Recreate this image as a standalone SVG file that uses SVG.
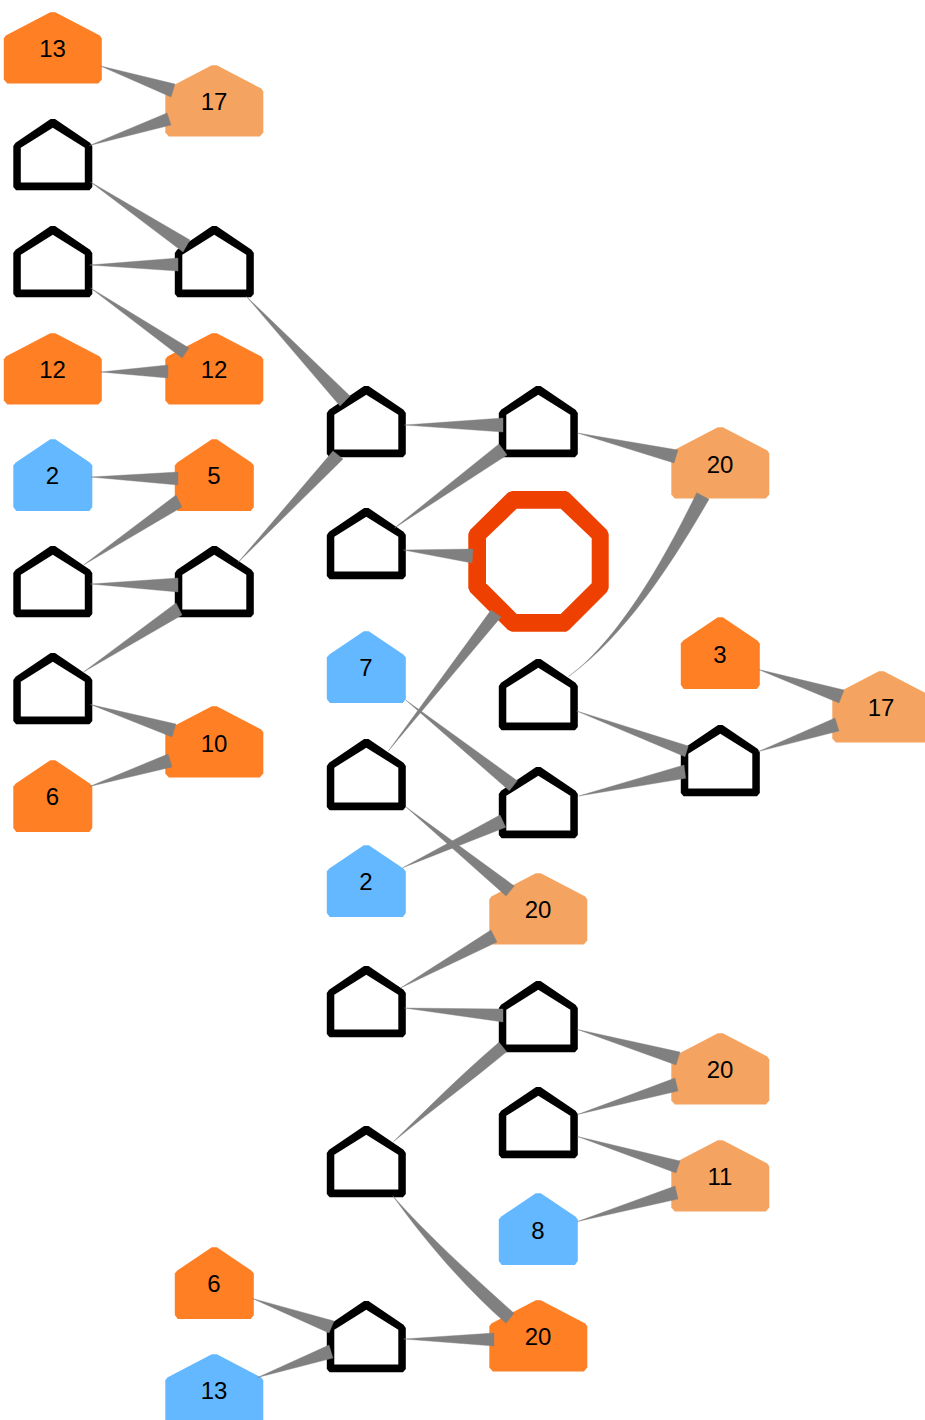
<svg xmlns="http://www.w3.org/2000/svg" width="925" height="1420" viewBox="0 0 925 1420">
<style>
text{font-family:"Liberation Sans",Arial,sans-serif;font-size:24px;fill:#000;text-anchor:middle;transform:translateX(-.3px)}
.o{fill:#FF7F24}.l{fill:#F4A460}.b{fill:#63B8FF}
.k{fill:#000}.i{fill:#fff}
#edges path{fill:#808080;stroke:#808080;stroke-width:.4}
</style>
<defs>
<polygon id="w" points="-2.500,0.200 2.500,0.200 47,23.500 49,26.500 49,67.500 45.500,71.500 -45.500,71.500 -49,67.500 -49,26.500 -47,23.500"/>
<polygon id="n" points="-2.500,0.200 2.500,0.200 37,23.500 39.500,26.500 39.500,68 36.500,72 -36.500,72 -39.500,68 -39.500,26.500 -37,23.500"/>
<polygon id="h" points="-2.200,0 2.200,0 37.200,23.800 39.500,27 39.500,68 36.700,71.300 -36.700,71.300 -39.500,68 -39.500,27 -37.200,23.800"/>
<polygon id="h2" points="0,8.700 32,28.700 32,63.500 -32,63.500 -32,28.700"/>
</defs>
<rect width="925" height="1420" fill="#fff"/>
<g id="nodes">
<g id="n1" transform="translate(52.800,12)"><use href="#w" class="o"/><text y="45">13</text></g>
<g id="n2" transform="translate(214.300,65)"><use href="#w" class="l"/><text y="45">17</text></g>
<g id="n3" transform="translate(52.800,119)"><use href="#h" class="k"/><use href="#h2" class="i"/></g>
<g id="n4" transform="translate(52.800,226)"><use href="#h" class="k"/><use href="#h2" class="i"/></g>
<g id="n5" transform="translate(214.300,226)"><use href="#h" class="k"/><use href="#h2" class="i"/></g>
<g id="n6" transform="translate(52.800,333)"><use href="#w" class="o"/><text y="45">12</text></g>
<g id="n7" transform="translate(214.300,333)"><use href="#w" class="o"/><text y="45">12</text></g>
<g id="n8" transform="translate(52.800,439)"><use href="#n" class="b"/><text y="45">2</text></g>
<g id="n9" transform="translate(214.300,439)"><use href="#n" class="o"/><text y="45">5</text></g>
<g id="n10" transform="translate(52.800,546)"><use href="#h" class="k"/><use href="#h2" class="i"/></g>
<g id="n11" transform="translate(214.300,546)"><use href="#h" class="k"/><use href="#h2" class="i"/></g>
<g id="n12" transform="translate(52.800,653)"><use href="#h" class="k"/><use href="#h2" class="i"/></g>
<g id="n13" transform="translate(214.300,706)"><use href="#w" class="o"/><text y="46">10</text></g>
<g id="n14" transform="translate(52.800,760)"><use href="#n" class="o"/><text y="45">6</text></g>
<g id="n15" transform="translate(366.300,386)"><use href="#h" class="k"/><use href="#h2" class="i"/></g>
<g id="n16" transform="translate(538.300,386)"><use href="#h" class="k"/><use href="#h2" class="i"/></g>
<g id="n17" transform="translate(720.300,427)"><use href="#w" class="l"/><text y="46">20</text></g>
<g id="n18" transform="translate(366.300,508)"><use href="#h" class="k"/><use href="#h2" class="i"/></g>
<g id="n19"><polygon points="512,491 566,491 569,492.500 607,530 608.700,534 608.700,588 607,592 569,630 566,631.700 512,631.700 508,630 470,592 468.300,588 468.300,534 470,530 508,492.500" fill="#EE4000"/><polygon points="516.700,508.700 560.700,508.700 591.700,538.300 591.700,583.300 560.700,614 516.700,614 486,583.300 486,538.300" fill="#fff"/></g>
<g id="n20" transform="translate(366.300,631)"><use href="#n" class="b"/><text y="45">7</text></g>
<g id="n21" transform="translate(538.300,659)"><use href="#h" class="k"/><use href="#h2" class="i"/></g>
<g id="n22" transform="translate(720.300,617)"><use href="#n" class="o"/><text y="46">3</text></g>
<g id="n23" transform="translate(881.300,671)"><use href="#w" class="l"/><text y="45">17</text></g>
<g id="n24" transform="translate(720.300,725)"><use href="#h" class="k"/><use href="#h2" class="i"/></g>
<g id="n25" transform="translate(366.300,739)"><use href="#h" class="k"/><use href="#h2" class="i"/></g>
<g id="n26" transform="translate(538.300,767)"><use href="#h" class="k"/><use href="#h2" class="i"/></g>
<g id="n27" transform="translate(366.300,845)"><use href="#n" class="b"/><text y="45">2</text></g>
<g id="n28" transform="translate(538.300,873)"><use href="#w" class="l"/><text y="45">20</text></g>
<g id="n29" transform="translate(366.300,966)"><use href="#h" class="k"/><use href="#h2" class="i"/></g>
<g id="n30" transform="translate(538.300,981)"><use href="#h" class="k"/><use href="#h2" class="i"/></g>
<g id="n31" transform="translate(720.300,1033)"><use href="#w" class="l"/><text y="45">20</text></g>
<g id="n32" transform="translate(538.300,1087)"><use href="#h" class="k"/><use href="#h2" class="i"/></g>
<g id="n33" transform="translate(366.300,1126)"><use href="#h" class="k"/><use href="#h2" class="i"/></g>
<g id="n34" transform="translate(720.300,1140)"><use href="#w" class="l"/><text y="45">11</text></g>
<g id="n35" transform="translate(538.300,1193)"><use href="#n" class="b"/><text y="46">8</text></g>
<g id="n36" transform="translate(214.300,1247)"><use href="#n" class="o"/><text y="45">6</text></g>
<g id="n37" transform="translate(538.300,1300)"><use href="#w" class="o"/><text y="45">20</text></g>
<g id="n38" transform="translate(366.300,1301)"><use href="#h" class="k"/><use href="#h2" class="i"/></g>
<g id="n39" transform="translate(214.300,1354)"><use href="#w" class="b"/><text y="45">13</text></g>
</g>
<g id="edges">
<path d="M100.500,66L175,84L171,97Z"/>
<path d="M89.500,145.500L167,113L171,125Z"/>
<path d="M90.500,182L190,240L183,252Z"/>
<path d="M89.500,265L178,258L178,271Z"/>
<path d="M90.500,288L189,348L182,358Z"/>
<path d="M100.500,372L168,365L168,378Z"/>
<path d="M90.500,477L178,472L178,485Z"/>
<path d="M83.500,565L176,495L182,507Z"/>
<path d="M90.500,584L178,578L178,592Z"/>
<path d="M83.500,672L176,603L182,615Z"/>
<path d="M90.500,704.500L176,724L172,737Z"/>
<path d="M89.500,786.500L168,754L172,767Z"/>
<path d="M246.500,296.500L350,396L340,406Z"/>
<path d="M238,562.500L333,451L343,459Z"/>
<path d="M404.500,425L503,418L503,432Z"/>
<path d="M394.500,528L499,444L507,455Z"/>
<path d="M403.500,550L473,549L472,563Z"/>
<path d="M577.500,433L678,450L674,463Z"/>
<path d="M568.500,676.500C612,645 657,575 696.700,492.700L709,499.300C672,563 627,634 568.500,676.500Z"/>
<path d="M388.300,751L491,610L501,617Z"/>
<path d="M405.700,700L517.300,780.700L509.300,790.700Z"/>
<path d="M576.700,711L688.300,746L685,756.700Z"/>
<path d="M578.700,796L684,765L685.700,778.300Z"/>
<path d="M402.700,867.700L500,815L505.700,827.300Z"/>
<path d="M758.500,669.500L844,690L839,703Z"/>
<path d="M758.500,751.500L835,718L839,731Z"/>
<path d="M405.700,806.700L514.300,886L506,896Z"/>
<path d="M400.500,988L491,930L497,942Z"/>
<path d="M404.500,1008L503,1009L503,1022Z"/>
<path d="M393.300,1141.700C428,1108 463,1073 499,1042.300L506.700,1051.700C470,1082 432,1110 393.300,1141.700Z"/>
<path d="M577.500,1029.500L680,1052L676,1065Z"/>
<path d="M577.500,1114.500L675,1078L678,1091Z"/>
<path d="M577.500,1136.500L680,1161L676,1173Z"/>
<path d="M577.500,1221.500L675,1186L678,1199Z"/>
<path d="M392.700,1195.700C430,1238 475,1278 514,1313.300L506,1323.300C468,1290 428,1245 392.700,1195.700Z"/>
<path d="M403.500,1339L494,1333L494,1346Z"/>
<path d="M252.500,1298.500L334,1321L329,1333Z"/>
<path d="M257.500,1377.500L329,1345L333,1358Z"/>
</g>
</svg>
